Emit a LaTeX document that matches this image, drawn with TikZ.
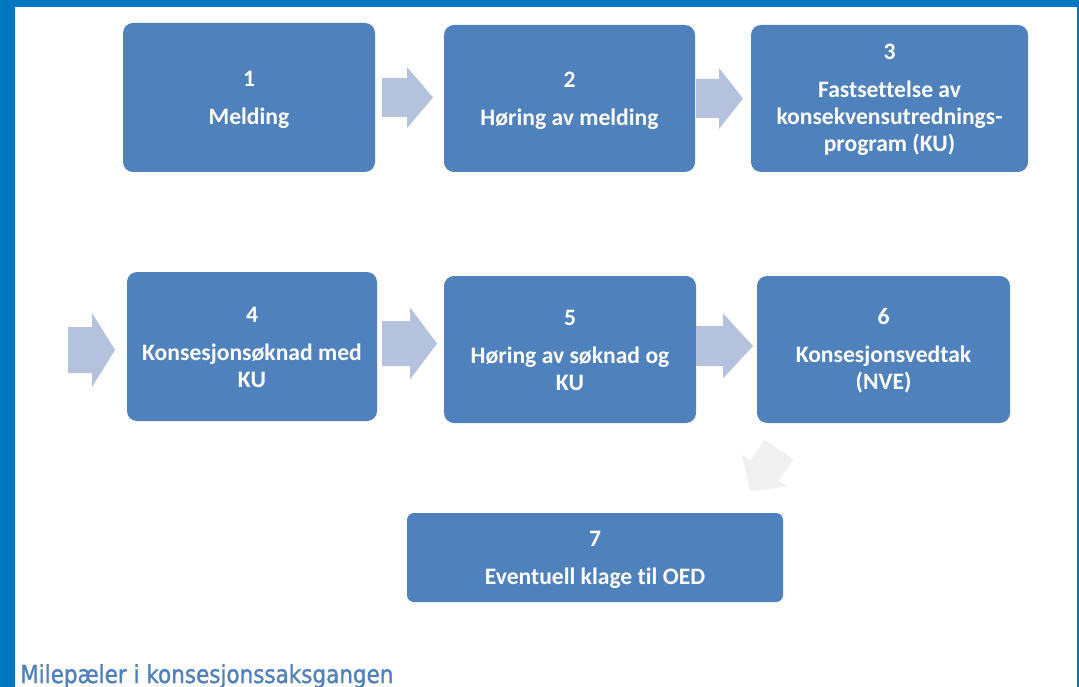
\documentclass[tikz,border=0pt]{standalone}
\usepackage{fontspec}
\newfontfamily\boxfont{Carlito}[Ligatures=NoCommon]
\newfontfamily\capfont{DejaVu Sans}[FakeBold=1.3]
\definecolor{framecol}{HTML}{0078C1}
\definecolor{boxblue}{HTML}{4F81BD}
\definecolor{arrowcol}{HTML}{B4C2DD}
\definecolor{grayarrow}{HTML}{F0F0F0}
\definecolor{capcol}{HTML}{4F81BD}
\newcommand\blkarrow[6]{\fill[arrowcol] (#1,#4-#5) -- (#2,#4-#5) -- (#2,#4-#6) -- (#3,#4) -- (#2,#4+#6) -- (#2,#4+#5) -- (#1,#4+#5) -- cycle;}
\tikzset{
  stepbox/.style={fill=boxblue, draw=none, rounded corners=10pt, inner sep=0pt},
  boxtext/.style={inner sep=0pt, text=white, align=center,
    font=\boxfont\bfseries\fontsize{23.6}{27}\selectfont},
}
\begin{document}
\begin{tikzpicture}[x=1pt,y=-1pt]
\useasboundingbox (0,0) rectangle (1079,687);
% frame
\fill[framecol] (0,0) rectangle (1079,687);
\fill[white] (15,7) rectangle (1077,687);
% boxes
\node[stepbox, minimum width=252pt, minimum height=149pt] (b1) at (249,97.5) {};
\node[stepbox, minimum width=251pt, minimum height=147pt] (b2) at (569.5,98.5) {};
\node[stepbox, minimum width=277pt, minimum height=147pt] (b3) at (889.5,98.5) {};
\node[stepbox, minimum width=250pt, minimum height=149pt] (b4) at (252,346.5) {};
\node[stepbox, minimum width=252pt, minimum height=147pt] (b5) at (570,349.5) {};
\node[stepbox, minimum width=253pt, minimum height=147pt] (b6) at (883.5,349.5) {};
\node[stepbox, rounded corners=7pt, minimum width=376pt, minimum height=89pt] (b7) at (595,557.5) {};
% box texts
\node[boxtext] (t1) at ([yshift=-2.5pt]b1.center) {1\\[11pt]Melding};
\node[boxtext] (t2) at ([yshift=-2.5pt]b2.center) {2\\[11pt]Høring av melding};
\node[boxtext] (t3) at ([yshift=-1.5pt]b3.center) {3\\[11pt]Fastsettelse av\\konsekvensutrednings-\\program (KU)};
\node[boxtext] (t4) at ([yshift=-1pt]b4.center) {4\\[11pt]Konsesjonsøknad med\\KU};
\node[boxtext] (t5) at ([yshift=-1pt]b5.center) {5\\[11pt]Høring av søknad og\\KU};
\node[boxtext] (t6) at ([yshift=-1pt]b6.center) {6\\[11pt]Konsesjonsvedtak\\(NVE)};
\node[boxtext] (t7) at ([yshift=-2pt]b7.center) {7\\[11pt]Eventuell klage til OED};
% block arrows
\blkarrow{382}{407}{433}{97.5}{19.5}{30.5}
\blkarrow{696}{719}{743}{98.5}{19.5}{30.5}
\blkarrow{68}{92}{115}{350}{23}{37}
\blkarrow{382}{410}{437}{343.5}{22.5}{36}
\blkarrow{696}{723}{753}{346}{20}{32.5}
\fill[grayarrow] (764.9,439.6) -- (750.2,460.4) -- (741.6,454.3) -- (750.05,490.9) -- (787.4,486.7) -- (778.8,480.6) -- (793.5,459.8) -- cycle;
% caption
\node[anchor=base west, inner sep=0pt, text=capcol, font=\capfont\fontsize{21.5}{26}\selectfont] (cap) at (20,683) {\scalebox{1}[1.15]{Milepæler i konsesjonssaksgangen}};
\end{tikzpicture}
\end{document}
